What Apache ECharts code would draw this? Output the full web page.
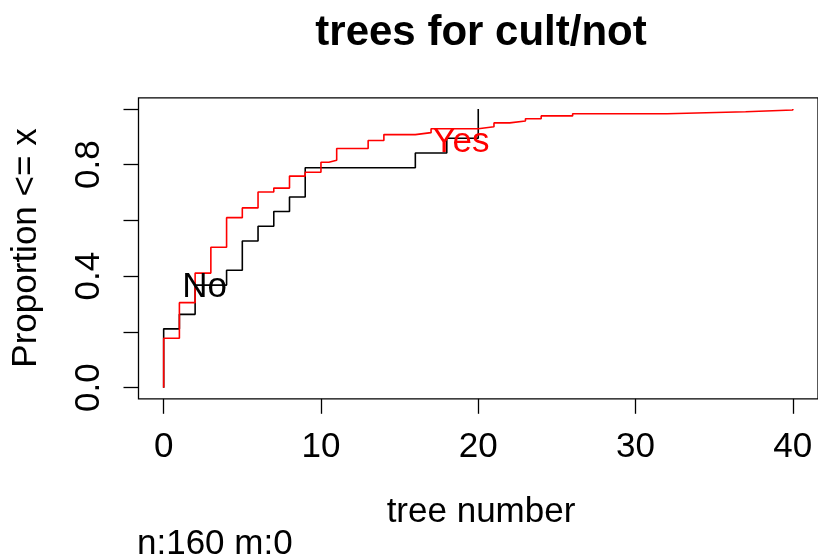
<!DOCTYPE html>
<html>
<head>
<meta charset="utf-8">
<script src="https://cdn.jsdelivr.net/npm/echarts@6/dist/echarts.min.js"></script>
<style>
  html, body { margin: 0; padding: 0; background: #fff; }
  #chart { width: 818px; height: 559px; }
</style>
</head>
<body>
<div id="chart"></div>
<script>
// Empirical CDFs of tree number, split by cultivation group
const noX = [0, 0, 1, 2, 4, 5, 6, 7, 8, 9, 16, 18, 20];
const noY = [0, 0.211, 0.263, 0.368, 0.421, 0.526, 0.579, 0.632, 0.684, 0.789, 0.842, 0.895, 1.0];

const yesX = [0, 0, 1, 2, 3, 4, 5, 6, 7, 8, 9, 10, 10.5, 11, 13, 14, 16, 17, 20, 21, 22, 23, 24, 26, 32, 37, 40];
const yesY = [0, 0.177, 0.305, 0.411, 0.504, 0.610, 0.645, 0.702, 0.716, 0.759, 0.773, 0.809, 0.816, 0.858,
              0.887, 0.908, 0.915, 0.929, 0.936, 0.950, 0.957, 0.965, 0.975, 0.983, 0.990, 0.996, 1.0];

// Group name labels and where they sit (data coordinates)
const groupNames = ['No', 'Yes'];
const groupColors = ['#000000', '#ff0000'];
const groupLabelAt = [[2.6, 0.36], [18.9, 0.88]];

// Axis ticks and labels
const xTicks = [0, 10, 20, 30, 40];
const yTicks = [0, 0.2, 0.4, 0.6, 0.8, 1.0];
const yTickLabels = [0, 0.4, 0.8];

const titleText = 'trees for cult/not';
const xName = 'tree number';
const yName = 'Proportion <= x';
const footText = 'n:160 m:0';

const FONT = '"Liberation Sans", Arial, Helvetica, sans-serif';
const FS = 35;
const zip = (xs, ys) => xs.map((x, i) => [x, ys[i]]);

const chart = echarts.init(document.getElementById('chart'), null, { renderer: 'canvas' });

const baseGraphics = [
  {
    type: 'text', x: 481, y: 33, z: 10,
    style: { text: titleText, fill: '#000', font: 'bold 42px ' + FONT, textAlign: 'center', textVerticalAlign: 'middle' }
  },
  {
    type: 'text', x: 481, y: 512, z: 10,
    style: { text: xName, fill: '#000', font: FS + 'px ' + FONT, textAlign: 'center', textVerticalAlign: 'middle' }
  },
  {
    type: 'text', x: 26, y: 248, rotation: Math.PI / 2, z: 10,
    style: { text: yName, fill: '#000', font: FS + 'px ' + FONT, textAlign: 'center', textVerticalAlign: 'middle' }
  },
  {
    type: 'text', x: 137, y: 544.5, z: 10,
    style: { text: footText, fill: '#000', font: FS + 'px ' + FONT, textAlign: 'left', textVerticalAlign: 'middle' }
  }
];

chart.setOption({
  animation: false,
  backgroundColor: '#ffffff',
  grid: {
    left: 138.5, top: 97.8, width: 683.4, height: 301,
    show: true, borderColor: '#000', borderWidth: 1.3, backgroundColor: 'transparent'
  },
  xAxis: {
    type: 'value', min: -1.6, max: 41.6,
    splitLine: { show: false },
    axisLine: { show: false, onZero: false },
    axisTick: { show: true, inside: false, length: 15, customValues: xTicks, lineStyle: { color: '#000', width: 1.3 } },
    axisLabel: {
      customValues: xTicks, margin: 31, color: '#000', fontFamily: FONT, fontSize: FS
    }
  },
  yAxis: {
    type: 'value', min: -0.04, max: 1.04,
    splitLine: { show: false },
    axisLine: { show: false, onZero: false },
    axisTick: { show: true, inside: false, length: 15, customValues: yTicks, lineStyle: { color: '#000', width: 1.3 } },
    axisLabel: {
      customValues: yTickLabels, rotate: 90, margin: 32, color: '#000', fontFamily: FONT, fontSize: FS,
      formatter: v => v.toFixed(1)
    }
  },
  series: [
    {
      name: 'No', type: 'line', step: 'end', showSymbol: false, symbol: 'none',
      data: zip(noX, noY),
      lineStyle: { color: '#000', width: 1.6 }, z: 2
    },
    {
      name: 'Yes', type: 'line', step: 'end', showSymbol: false, symbol: 'none',
      data: zip(yesX, yesY),
      lineStyle: { color: '#ff0000', width: 1.6 }, z: 3
    }
  ],
  graphic: baseGraphics
});

// Group names placed through the chart's own coordinate system
const nameGraphics = groupNames.map((n, i) => {
  const p = chart.convertToPixel({ gridIndex: 0 }, groupLabelAt[i]);
  return {
    type: 'text', x: p[0], y: p[1], z: 10,
    style: { text: n, fill: groupColors[i], font: FS + 'px ' + FONT, textAlign: 'center', textVerticalAlign: 'middle' }
  };
});
chart.setOption({ graphic: baseGraphics.concat(nameGraphics) });
</script>
</body>
</html>
